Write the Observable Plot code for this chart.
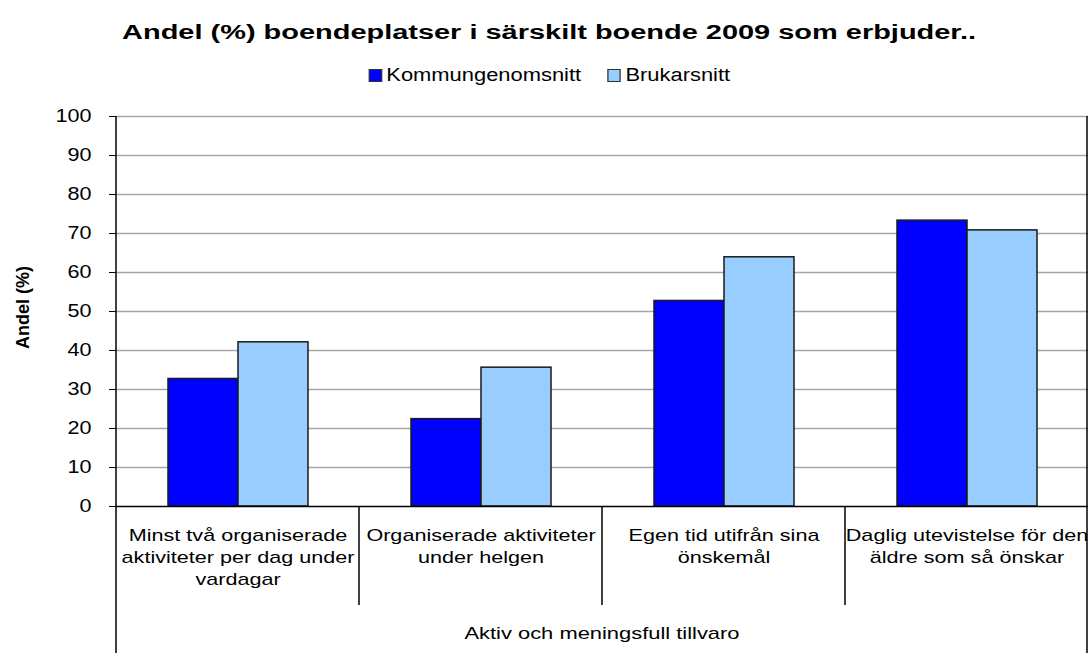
<!DOCTYPE html>
<html><head><meta charset="utf-8">
<script src="https://cdn.jsdelivr.net/npm/d3@7"></script>
<script src="https://cdn.jsdelivr.net/npm/@observablehq/plot@0.6"></script>
<style>
html,body{margin:0;padding:0;background:#fff;overflow:hidden;}
body{width:1089px;height:653px;font-family:"Liberation Sans",Arial,sans-serif;color:#000;}
#header{position:relative;height:95px;}
#title{position:absolute;left:9px;width:1080px;top:20px;line-height:24px;font-size:20px;font-weight:bold;text-align:center;white-space:nowrap;}
#title span{display:inline-block;transform:scaleX(1.447);}
#legend{position:absolute;left:9px;width:1080px;top:66px;display:flex;justify-content:center;}
#legend .inner{display:flex;align-items:center;transform:scaleX(1.217);}
.item{display:flex;align-items:center;font-size:18px;line-height:18px;white-space:nowrap;}
.sw{width:11px;height:13px;box-sizing:border-box;border:1px solid #333;margin-right:3.4px;}
.item + .item{margin-left:22px;}
#chart svg{display:block;}
</style>
</head><body>
<div id="header"><div id="title"><span></span></div><div id="legend"><div class="inner"></div></div></div>
<div id="chart"></div>
<script>
const title = "Andel (%) boendeplatser i särskilt boende 2009 som erbjuder..";
const yLabel = "Andel (%)";
const groupLabel = "Aktiv och meningsfull tillvaro";
const categories = [
  "Minst två organiserade\naktiviteter per dag under\nvardagar",
  "Organiserade aktiviteter\nunder helgen",
  "Egen tid utifrån sina\nönskemål",
  "Daglig utevistelse för den\näldre som så önskar"
];
const series = ["Kommungenomsnitt", "Brukarsnitt"];
const kommungenomsnitt = [32.7, 22.4, 52.7, 73.3];
const brukarsnitt = [42.1, 35.6, 63.9, 70.8];
const yTicks = [0, 10, 20, 30, 40, 50, 60, 70, 80, 90, 100];
const colors = ["#0000FF", "#99CCFF"];

document.querySelector("#title span").textContent = title;
const inner = document.querySelector("#legend .inner");
series.forEach((s, i) => {
  const it = document.createElement("div"); it.className = "item";
  const sw = document.createElement("div"); sw.className = "sw"; sw.style.background = colors[i];
  const tx = document.createElement("span"); tx.textContent = s;
  it.append(sw, tx); inner.append(it);
});

const data = categories.flatMap((c, i) => [
  {category: c, series: series[0], value: kommungenomsnitt[i]},
  {category: c, series: series[1], value: brukarsnitt[i]}
]);

const plot = Plot.plot({
  width: 1089, height: 558,
  marginTop: 21, marginBottom: 147, marginLeft: 114, marginRight: 0,
  style: {fontFamily: "Liberation Sans, Arial, sans-serif", fontSize: "18px", color: "#000", background: "#fff"},
  fx: {domain: categories, padding: 0, axis: null, label: null},
  x: {domain: series, paddingInner: 0, paddingOuter: 0.73, axis: null},
  y: {domain: [0, 100], ticks: yTicks, tickSize: 7, tickPadding: 18, label: null},
  color: {domain: series, range: colors},
  marks: [
    Plot.ruleY(yTicks.filter(t => t > 0), {stroke: "#a6a6a6", strokeWidth: 1.5}),
    Plot.barY(data, {fx: "category", x: "series", y: "value", fill: "series", stroke: "#1a1a1a", strokeWidth: 1.5}),
    Plot.ruleY([0], {stroke: "#000", strokeWidth: 1.5}),
    Plot.text(categories, {fx: d => d, text: d => d, frameAnchor: "bottom", lineAnchor: "top", dy: 19, fontSize: 16, lineHeight: 1.375, fill: "#000"})
  ]
});
document.getElementById("chart").append(plot);

const svg = d3.select(plot.tagName.toLowerCase() === "svg" ? plot : plot.querySelector("svg"));
const fx = plot.scale("fx"), y = plot.scale("y");
const y0 = y.apply(0), yTop = y.apply(100);
const left = fx.apply(categories[0]);
const right = fx.apply(categories[categories.length - 1]) + fx.bandwidth;
const H = 558;
const g = svg.append("g").attr("stroke", "#000").attr("stroke-width", 1.5);
g.append("line").attr("x1", left).attr("x2", left).attr("y1", yTop).attr("y2", H);
g.append("line").attr("x1", right - 1).attr("x2", right - 1).attr("y1", yTop).attr("y2", H);
categories.slice(1).forEach(c => {
  const x = fx.apply(c);
  g.append("line").attr("x1", x).attr("x2", x).attr("y1", y0).attr("y2", y0 + 99);
});
svg.append("text").attr("class", "grp").attr("x", (left + right) / 2).attr("y", y0 + 133)
  .attr("text-anchor", "middle").attr("font-size", 16).attr("fill", "#000").text(groupLabel);
svg.append("text").attr("transform", `translate(22.5,${(y0 + yTop) / 2 - 3.5}) rotate(-90)`)
  .attr("text-anchor", "middle").attr("dy", "0.36em").attr("font-size", 18).attr("font-weight", "bold")
  .attr("fill", "#000").text(yLabel);

function stretch(sel, k) {
  sel.each(function() {
    const x = +this.getAttribute("x") || 0, yy = +this.getAttribute("y") || 0;
    const t = this.getAttribute("transform") || "";
    this.setAttribute("transform", `${t} translate(${x},${yy}) scale(${k},1) translate(${-x},${-yy})`);
  });
}
const tickStrings = yTicks.map(String);
const catStrings = categories.map(c => c.replace(/\n/g, ""));
const allText = svg.selectAll("text");
stretch(allText.filter(function() { return tickStrings.includes(this.textContent.trim()); }), 1.2);
stretch(allText.filter(function() { return catStrings.includes(this.textContent.replace(/\n/g, "")); }), 1.35);
stretch(svg.selectAll("text.grp"), 1.37);
</script>
</body></html>
